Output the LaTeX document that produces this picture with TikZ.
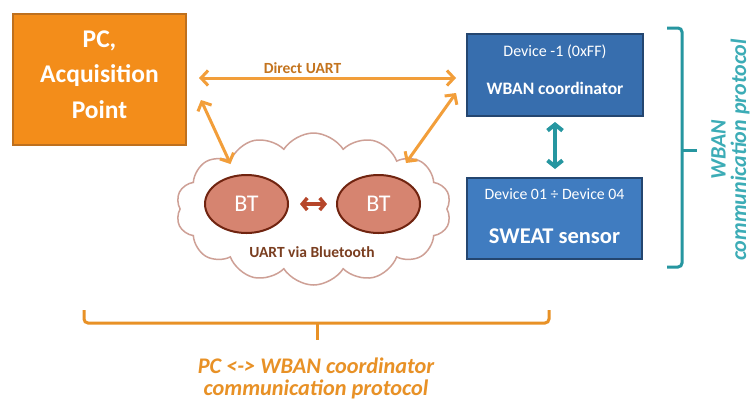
\documentclass[tikz,border=0pt]{standalone}
\usepackage{fontspec}
\setmainfont{Carlito}
\usetikzlibrary{arrows.meta,shapes.geometric,shapes.symbols}
\definecolor{pcfill}{RGB}{243,141,26}
\definecolor{pcdraw}{RGB}{190,112,30}
\definecolor{oarr}{RGB}{242,158,58}
\definecolor{otext}{RGB}{196,116,30}
\definecolor{bfillA}{RGB}{55,110,174}
\definecolor{bfillB}{RGB}{64,124,192}
\definecolor{bdraw}{RGB}{36,70,112}
\definecolor{teal}{RGB}{38,150,160}
\definecolor{tealtext}{RGB}{60,172,182}
\definecolor{btfill}{RGB}{214,132,112}
\definecolor{btdraw}{RGB}{112,36,16}
\definecolor{btarr}{RGB}{182,70,42}
\definecolor{cloudc}{RGB}{206,160,150}
\definecolor{uarttext}{RGB}{122,62,32}
\definecolor{bottomc}{RGB}{232,145,38}
\tikzset{
  pcbox/.style={draw=pcdraw, line width=2pt, fill=pcfill, minimum width=173pt, minimum height=131pt, inner sep=0pt},
  bluebox/.style={draw=bdraw, line width=2pt, minimum width=176pt, minimum height=82pt, inner sep=0pt},
  btnode/.style={ellipse, draw=btdraw, line width=2pt, fill=btfill, minimum width=83pt, minimum height=58pt, text=white, font=\fontsize{24}{26}\selectfont},
  oarrow/.style={draw=oarr, line width=3pt, {Straight Barb[length=7pt,width=15pt]}-{Straight Barb[length=7pt,width=15pt]}},
  tarrow/.style={draw=teal, line width=4pt, {Straight Barb[length=6pt,width=15pt]}-{Straight Barb[length=6pt,width=15pt]}},
  barrow/.style={draw=btarr, line width=3.5pt, {Straight Barb[length=5pt,width=12pt]}-{Straight Barb[length=5pt,width=12pt]}},
  wtext/.style={text=white, inner sep=0pt},
  brace/.style={line width=3pt, rounded corners=4pt},
}
\begin{document}
\begin{tikzpicture}[x=1pt,y=-1pt]
\fill[white] (0,0) rectangle (751,400);
\useasboundingbox (0,0) rectangle (751,400);

% cloud
\node[cloud, cloud puffs=14, cloud puff arc=115, aspect=1.8, draw=cloudc, line width=1.5pt, fill=white, minimum width=275pt, minimum height=152pt] (cloud) at (313.5,209) {};

% PC box
\node[pcbox] (pc) at (99.5,79.5) {};
\node[wtext, align=center, font=\bfseries\fontsize{25.5}{35.5}\selectfont] (pctext) at (99.5,74.5) {PC,\\Acquisition\\Point};

% blue boxes
\node[bluebox, fill=bfillA] (c1) at (555,75) {};
\node[wtext, font=\fontsize{16}{18}\selectfont] (c1a) at (555,52) {Device -1 (0xFF)};
\node[wtext, font=\bfseries\fontsize{17.5}{20}\selectfont] (c1b) at (555,88) {WBAN coordinator};

\node[bluebox, fill=bfillB, minimum width=175pt, minimum height=81pt] (c2) at (554.5,218.5) {};
\node[wtext, font=\fontsize{15.8}{18}\selectfont] (c2a) at (554.5,194) {Device 01 ÷ Device 04};
\node[wtext, font=\bfseries\fontsize{22.5}{24}\selectfont] (c2b) at (554.5,236) {SWEAT sensor};

% BT ellipses
\node[btnode] (btl) at (246.5,204) {BT};
\node[btnode] (btr) at (378.5,204) {BT};
\node[text=uarttext, font=\bfseries\fontsize{15.5}{17}\selectfont] (uart) at (312,252) {UART via Bluetooth};

% labels
\node[text=otext, font=\bfseries\fontsize{15.5}{17}\selectfont] (dulabel) at (302.5,68) {Direct UART};

% connectors
\draw[oarrow] ([xshift=12pt,yshift=1.5pt]pc.east) -- ([xshift=-10pt,yshift=1.5pt]pc.east -| c1.west);
\draw[oarrow] ([xshift=14pt,yshift=-20.5pt]pc.east) -- ([xshift=-16pt,yshift=10pt]btl.north);
\draw[oarrow] ([xshift=-10pt,yshift=-18pt]c1.west) -- ([xshift=27.5pt,yshift=11pt]btr.north);
\draw[tarrow] ([yshift=-5pt]c1.south) -- ([yshift=8pt]c1.south |- c2.north);
\draw[barrow] ([xshift=11pt,yshift=0pt]btl.east) -- ([xshift=-9pt]btr.west);

% right brace
\coordinate (rb1) at (667,28);
\coordinate (rb2) at (682,28);
\coordinate (rb3) at (682,267);
\coordinate (rb4) at (667,267);
\coordinate (rbm) at (682,150);
\coordinate (rbt) at (697,150);
\draw[brace, draw=teal] (rb1) -- (rb2) -- (rb3) -- (rb4);
\draw[brace, draw=teal] (rbm) -- (rbt);
\node[rotate=90, align=center, text=tealtext, font=\bfseries\itshape\fontsize{22}{20.5}\selectfont] (wban) at (730.5,150) {WBAN\\communication protocol};

% bottom brace
\coordinate (bb1) at (84,310);
\coordinate (bb2) at (84,323);
\coordinate (bb3) at (549,323);
\coordinate (bb4) at (549,310);
\coordinate (bbm) at (317,323);
\coordinate (bbt) at (317,340);
\draw[brace, draw=bottomc] (bb1) -- (bb2) -- (bb3) -- (bb4);
\draw[brace, draw=bottomc] (bbm) -- (bbt);
\node[align=center, text=bottomc, font=\bfseries\itshape\fontsize{22.3}{22}\selectfont] (pctxt) at (316,378) {PC <-> WBAN coordinator\\communication protocol};
\end{tikzpicture}
\end{document}
